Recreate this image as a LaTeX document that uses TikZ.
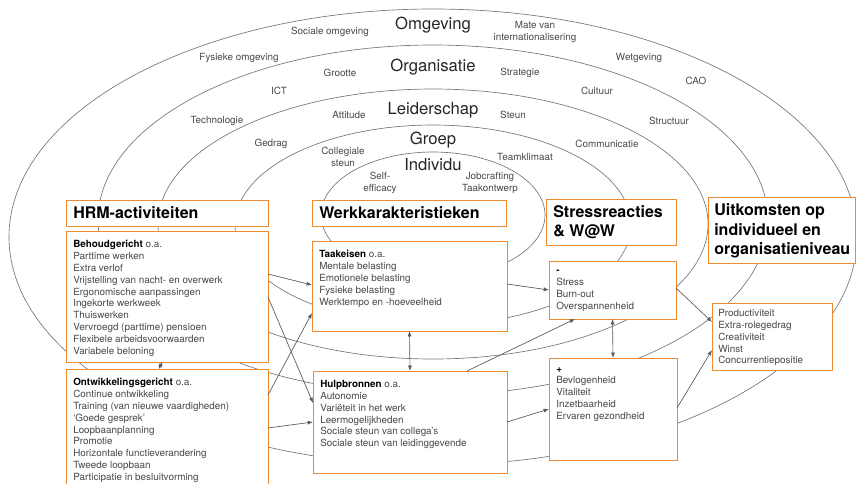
\documentclass[tikz,border=0pt]{standalone}
\usepackage{fontspec}
\setmainfont{TeX Gyre Heros}
\usetikzlibrary{arrows.meta,calc,fit}
\definecolor{kader}{RGB}{240,138,48}
\definecolor{ringgrijs}{RGB}{118,118,118}
\definecolor{tekst}{RGB}{72,72,72}
\newcommand{\kop}[1]{\textbf{\color{black}#1}}

\begin{document}
\begin{tikzpicture}[x=0.75pt,y=0.75pt,yscale=-1,xscale=1,
	ring/.style={draw=ringgrijs,line width=0.5pt},
	kaderbox/.style={draw=kader,line width=0.75pt,fill=white,inner sep=0pt,outer sep=0pt},
	titel/.style={inner sep=0pt,align=left,font=\fontsize{12}{14.5}\selectfont\bfseries},
	lijst/.style={inner sep=0pt,anchor=north west,align=left,text=tekst,font=\fontsize{7.4}{8.9}\selectfont},
	niveau/.style={inner sep=0pt,text=black!85,font=\fontsize{12.5}{15}\selectfont},
	factor/.style={inner sep=0pt,align=center,text=tekst,font=\fontsize{7.4}{8.9}\selectfont},
	pijl/.style={draw=black!65,line width=0.5pt,-{Latex[length=4pt,width=3pt]}},
	dubbel/.style={draw=black!65,line width=0.5pt,{Latex[length=4pt,width=3pt]}-{Latex[length=4pt,width=3pt]}}]
	\clip (0,0) rectangle (856,483);
	\draw[ring] (433,237) ellipse [x radius=424, y radius=228];
	\draw[ring] (433,220) ellipse [x radius=335, y radius=175];
	\draw[ring] (433,224) ellipse [x radius=275, y radius=135];
	\draw[ring] (433,225) ellipse [x radius=198, y radius=100];
	\draw[ring] (433,215) ellipse [x radius=112, y radius=63];
	\node[niveau] (omgeving) at (433,25) {Omgeving};
	\node[niveau] (organisatie) at (433,67) {Organisatie};
	\node[niveau] (leiderschap) at (433,110) {Leiderschap};
	\node[niveau] (groep) at (433,140) {Groep};
	\node[niveau] (individu) at (433,165) {Individu};
	\node[factor] (socomg) at (330,32) {Sociale omgeving};
	\node[factor] (internat) at (535,32) {Mate van\\internationalisering};
	\node[factor] (fysomg) at (239,58) {Fysieke omgeving};
	\node[factor] (wetgeving) at (639,58) {Wetgeving};
	\node[factor] (grootte) at (340,73) {Grootte};
	\node[factor] (strategie) at (520,73) {Strategie};
	\node[factor] (cao) at (696,81) {CAO};
	\node[factor] (ict) at (279,91) {ICT};
	\node[factor] (cultuur) at (597,91) {Cultuur};
	\node[factor] (technologie) at (217,121) {Technologie};
	\node[factor] (attitude) at (349,115) {Attitude};
	\node[factor] (steun) at (513,115) {Steun};
	\node[factor] (structuur) at (669,121) {Structuur};
	\node[factor] (gedrag) at (271,144) {Gedrag};
	\node[factor] (communicatie) at (607,144) {Communicatie};
	\node[factor] (collegiaal) at (343,157) {Collegiale\\steun};
	\node[factor] (teamklimaat) at (525,157) {Teamklimaat};
	\node[factor] (efficacy) at (380,183) {Self-\\efficacy};
	\node[factor] (jobcrafting) at (490,183) {Jobcrafting\\Taakontwerp};
	\node[kaderbox, fit={(66,200) (268,226)}] (hrmt) {};
	\node[kaderbox, fit={(66,231) (268,362)}] (behoud) {};
	\node[kaderbox, fit={(66,369) (268,495)}] (ontw) {};
	\node[kaderbox, fit={(312,200) (506,226)}] (werkt) {};
	\node[kaderbox, fit={(312,241) (507,331)}] (taak) {};
	\node[kaderbox, fit={(313,371) (507,473)}] (hulp) {};
	\node[kaderbox, fit={(546,199) (676,245)}] (stresst) {};
	\node[kaderbox, fit={(549,261) (676,319)}] (stressmin) {};
	\node[kaderbox, fit={(549,358) (677,460)}] (stressplus) {};
	\node[kaderbox, fit={(708,197) (855,263)}] (uitt) {};
	\node[kaderbox, fit={(712,303) (832,370)}] (uit) {};
	\node[titel, anchor=west] (hrmtxt) at ($(hrmt.west)+(7,0)$) {HRM-activiteiten};
	\node[titel, anchor=west] (werktxt) at ($(werkt.west)+(7,0)$) {Werkkarakteristieken};
	\node[titel, anchor=west] (stresstxt) at ($(stresst.west)+(7,0)$) {Stressreacties\\\& W@W};
	\node[titel, anchor=west] (uittxt) at ($(uitt.west)+(6,1)$) {Uitkomsten op\\individueel en\\organisatieniveau};
	\node[lijst] (behoudtxt) at ($(behoud.north west)+(7,9)$) {\kop{Behoudgericht} o.a.\\Parttime werken\\Extra verlof\\Vrijstelling van nacht- en overwerk\\Ergonomische aanpassingen\\Ingekorte werkweek\\Thuiswerken\\Vervroegd (parttime) pensioen\\Flexibele arbeidsvoorwaarden\\Variabele beloning};
	\node[lijst] (ontwtxt) at ($(ontw.north west)+(7,9)$) {\kop{Ontwikkelingsgericht} o.a.\\Continue ontwikkeling\\Training (van nieuwe vaardigheden)\\`Goede gesprek'\\Loopbaanplanning\\Promotie\\Horizontale functieverandering\\Tweede loopbaan\\Participatie in besluitvorming};
	\node[lijst] (taaktxt) at ($(taak.north west)+(7,9)$) {\kop{Taakeisen} o.a.\\Mentale belasting\\Emotionele belasting\\Fysieke belasting\\Werktempo en -hoeveelheid};
	\node[lijst] (hulptxt) at ($(hulp.north west)+(7,9)$) {\kop{Hulpbronnen} o.a.\\Autonomie\\Variëteit in het werk\\Leermogelijkheden\\Sociale steun van collega's\\Sociale steun van leidinggevende};
	\node[lijst] (stressmintxt) at ($(stressmin.north west)+(7,9)$) {\kop{-}\\Stress\\Burn-out\\Overspannenheid};
	\node[lijst] (stressplustxt) at ($(stressplus.north west)+(7,9)$) {\kop{+}\\Bevlogenheid\\Vitaliteit\\Inzetbaarheid\\Ervaren gezondheid};
	\node[lijst] (uitlijst) at ($(uit.north west)+(6,6)$) {Productiviteit\\Extra-rolegedrag\\Creativiteit\\Winst\\Concurrentiepositie};
	\draw[pijl] ($(behoud.north east)+(0,43)$) -- ($(taak.north west)+(0,44)$);
	\draw[pijl] ($(behoud.north east)+(0,66)$) -- ($(hulp.north west)+(0,32)$);
	\draw[pijl] ($(ontw.north east)+(0,26)$) -- ($(taak.north west)+(0,72)$);
	\draw[pijl] ($(ontw.north east)+(0,59)$) -- ($(hulp.north west)+(0,51)$);
	\draw[dubbel] (taak.south) -- (hulp.north);
	\draw[dubbel] ($(behoud.south west)+(96,0)$) -- ($(ontw.north west)+(93,0)$);
	\draw[pijl] ($(taak.north east)+(0,43)$) -- ($(stressmin.north west)+(0,29)$);
	\draw[pijl] ($(hulp.north west)+(154,0)$) -- ($(stressmin.south west)+(26,0)$);
	\draw[pijl] ($(hulp.north east)+(0,51)$) -- ($(stressplus.north west)+(0,51)$);
	\draw[dubbel] (stressmin.south) -- (stressplus.north);
	\draw[pijl] ($(stressmin.north east)+(0,27)$) -- ($(uit.north west)+(0,19)$);
	\draw[pijl] ($(stressplus.north east)+(0,50)$) -- ($(uit.north west)+(0,47)$);
\end{tikzpicture}
\end{document}
